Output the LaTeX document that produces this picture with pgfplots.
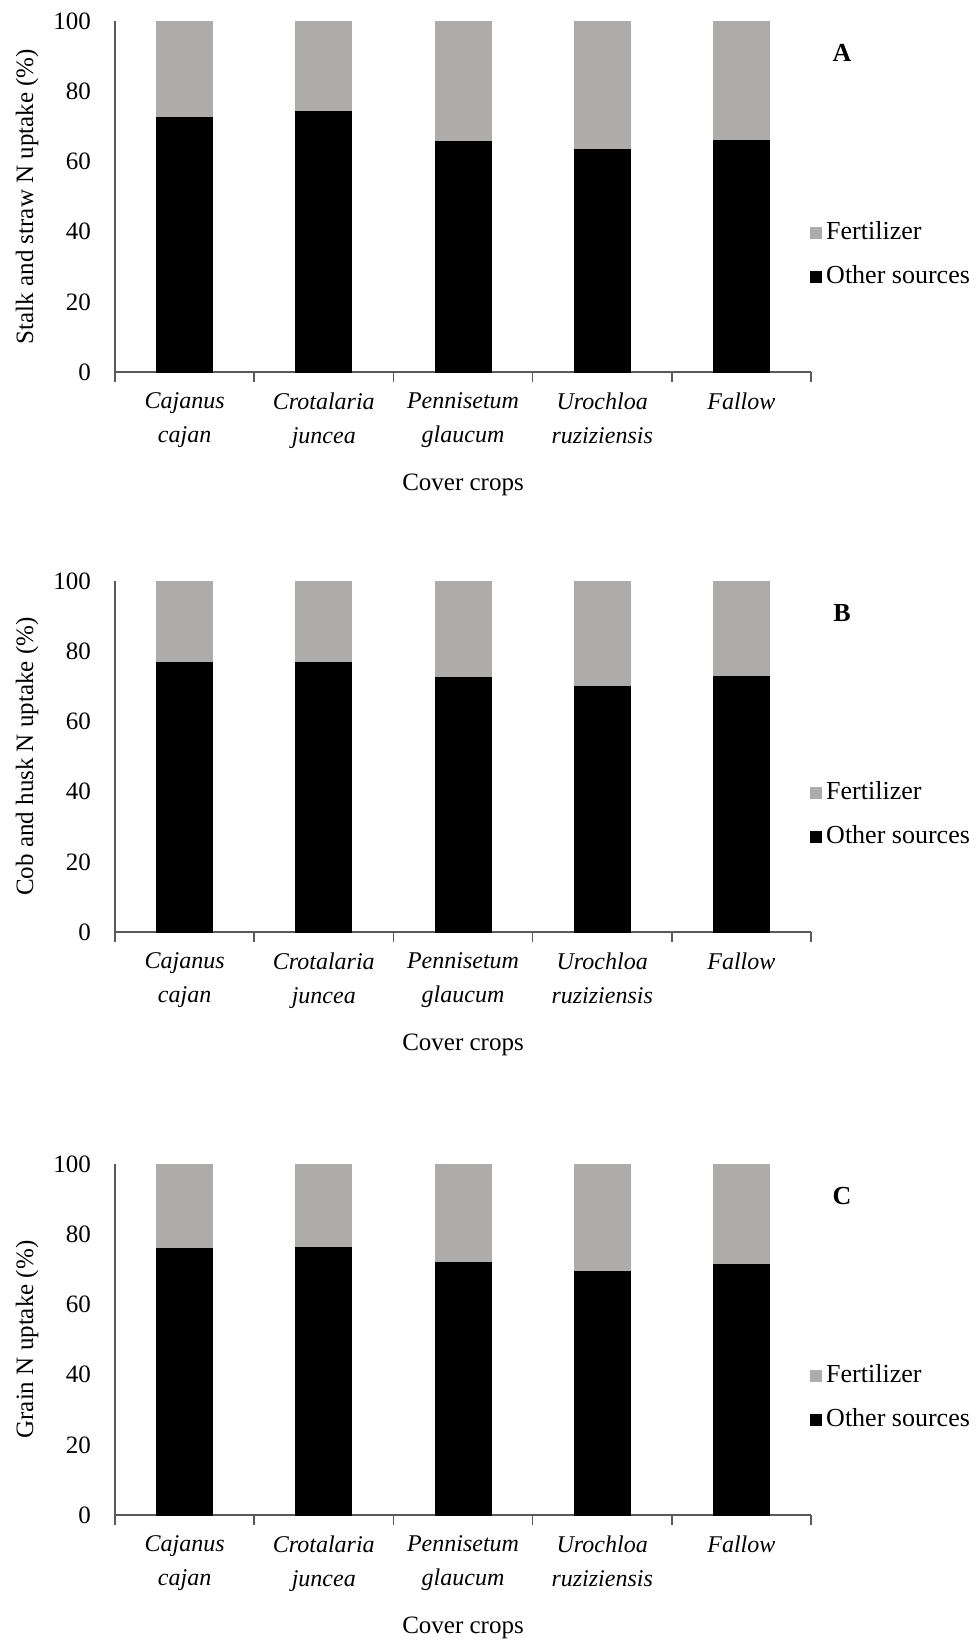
\documentclass[border=0pt]{standalone}
\usepackage{pgfplots}
\pgfplotsset{compat=1.18}
\usepackage{pgfplotstable}
\usepackage{fontspec}
\setmainfont{Liberation Serif}
\definecolor{fert}{HTML}{AEABAB}
\definecolor{axgray}{HTML}{595959}

\pgfplotstableread{
x other fert
0 72.6 27.4
1 74.2 25.8
2 65.6 34.4
3 63.5 36.5
4 66.1 33.9
}\dataA
\pgfplotstableread{
x other fert
0 76.7 23.3
1 76.7 23.3
2 72.4 27.6
3 70.0 30.0
4 72.8 27.2
}\dataB
\pgfplotstableread{
x other fert
0 75.9 24.1
1 76.2 23.8
2 72.0 28.0
3 69.3 30.7
4 71.4 28.6
}\dataC

\pgfplotsset{panel/.style={
  width=348pt, height=175.5pt, scale only axis,
  ybar stacked, bar width=28pt,
  xmin=-0.5, xmax=4.5, ymin=0, ymax=100,
  enlargelimits=false,
  xtick={0,1,2,3,4},
  xticklabels={{Cajanus\\cajan},{Crotalaria\\juncea},{Pennisetum\\glaucum},{Urochloa\\ruziziensis},{Fallow}},
  minor xtick={-0.5,0.5,1.5,2.5,3.5,4.5},
  ytick={0,20,40,60,80,100},
  axis x line*=bottom, axis y line*=left,
  axis line style={axgray, line width=0.8pt},
  tick align=outside,
  major tick length=0pt, minor tick length=5pt,
  tick style={axgray, line width=0.8pt},
  /pgf/number format/assume math mode=true,
  ticklabel style={font=\fontsize{12.5}{14}\selectfont},
  yticklabel style={xshift=-8.5pt},
  xticklabel style={align=center, font=\itshape\fontsize{12}{17}\selectfont, yshift=-7pt},
  every axis y label/.style={at={(rel axis cs:-0.1264,0.5)}, rotate=90, anchor=center, font=\fontsize{12.5}{14}\selectfont},
  every axis x label/.style={at={(rel axis cs:0.5,0)}, anchor=center, yshift=-56.5pt, font=\fontsize{12.5}{14}\selectfont},
  xlabel={Cover crops},
  clip=false,
  reverse legend,
  legend cell align=left,
  legend style={at={(rel axis cs:0.99,0.335)}, anchor=west, draw=none, fill=none,
    font=\fontsize{13}{15}\selectfont, row sep=7.5pt},
  legend image code/.code={\fill[#1] (0pt,-2.75pt) rectangle (5.5pt,2.75pt);},
}}

\begin{document}
\begin{tikzpicture}
\useasboundingbox (0,0) rectangle (489.5pt,-823pt);
% Panel A
\begin{axis}[panel, at={(57.5pt,-186pt)}, anchor=south west,
  ylabel={Stalk and straw N uptake (\%)}]
\addplot[fill=black, draw=black] table[x=x,y=other]{\dataA};
\addlegendentry{Other sources}
\addplot[fill=fert, draw=fert] table[x=x,y=fert]{\dataA};
\addlegendentry{Fertilizer}
\node[font=\bfseries\fontsize{13}{15}\selectfont] at (rel axis cs:1.0445,0.909) {A};
\end{axis}
% Panel B
\begin{axis}[panel, at={(57.5pt,-466pt)}, anchor=south west,
  ylabel={Cob and husk N uptake (\%)}]
\addplot[fill=black, draw=black] table[x=x,y=other]{\dataB};
\addlegendentry{Other sources}
\addplot[fill=fert, draw=fert] table[x=x,y=fert]{\dataB};
\addlegendentry{Fertilizer}
\node[font=\bfseries\fontsize{13}{15}\selectfont] at (rel axis cs:1.0445,0.909) {B};
\end{axis}
% Panel C
\begin{axis}[panel, at={(57.5pt,-757.5pt)}, anchor=south west,
  ylabel={Grain N uptake (\%)}]
\addplot[fill=black, draw=black] table[x=x,y=other]{\dataC};
\addlegendentry{Other sources}
\addplot[fill=fert, draw=fert] table[x=x,y=fert]{\dataC};
\addlegendentry{Fertilizer}
\node[font=\bfseries\fontsize{13}{15}\selectfont] at (rel axis cs:1.0445,0.909) {C};
\end{axis}
\end{tikzpicture}
\end{document}
